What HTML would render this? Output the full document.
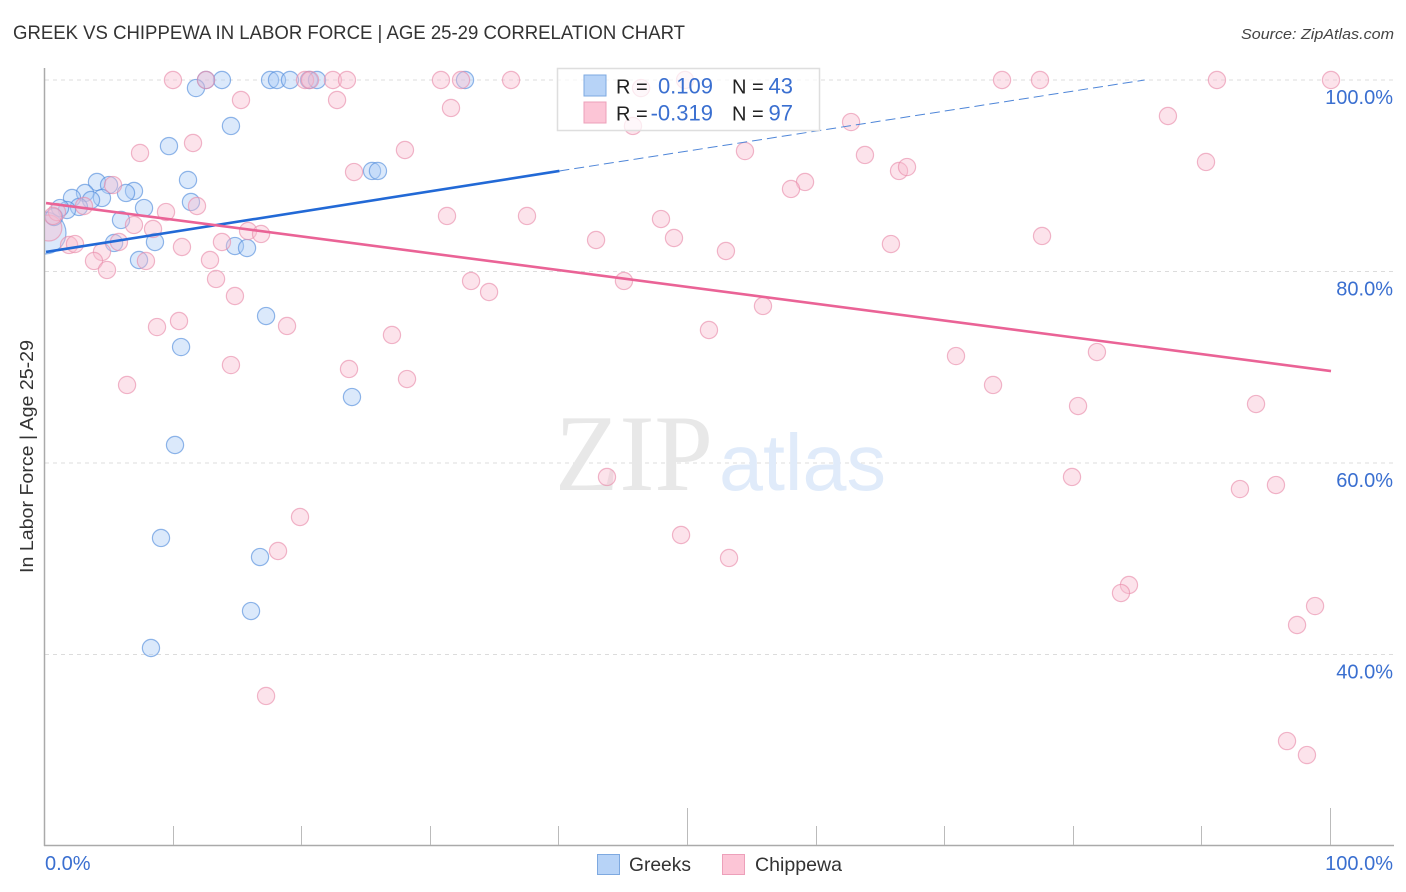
<!DOCTYPE html>
<html lang="en">
<head>
<meta charset="utf-8">
<title>Greek vs Chippewa in Labor Force | Age 25-29 Correlation Chart</title>
<style>
html,body{margin:0;padding:0;background:#fff;}
svg{display:block;font-family:"Liberation Sans",sans-serif;}
</style>
</head>
<body>
<svg id="chart" width="1406" height="892" viewBox="0 0 1406 892" xmlns="http://www.w3.org/2000/svg">
<defs><clipPath id="plot-clip"><rect x="45" y="60" width="1361" height="786"/></clipPath></defs>
<rect x="0" y="0" width="1406" height="892" fill="#ffffff"/>
<text x="13" y="39" font-size="19.5" fill="#333" textLength="672" lengthAdjust="spacingAndGlyphs">GREEK VS CHIPPEWA IN LABOR FORCE | AGE 25-29 CORRELATION CHART</text>
<text x="1394" y="39" font-size="15" font-style="italic" fill="#444" text-anchor="end" textLength="153" lengthAdjust="spacingAndGlyphs">Source: ZipAtlas.com</text>
<text transform="translate(33,456.5) rotate(-90)" font-size="18.5" fill="#333" text-anchor="middle" textLength="233" lengthAdjust="spacingAndGlyphs">In Labor Force | Age 25-29</text>
<g id="grid"></g>
<g>
<text x="555" y="490" font-family="'Liberation Serif',serif" font-size="109" fill="#e8e8e8" textLength="158" lengthAdjust="spacingAndGlyphs">ZIP</text>
<text x="719" y="490" font-size="80" fill="#e0ebfa" textLength="167" lengthAdjust="spacingAndGlyphs">atlas</text>
</g>
<g id="axes"></g>
<g id="points" clip-path="url(#plot-clip)"></g>
<g id="trends"></g>
<g>
<rect x="557.5" y="68.5" width="262" height="62" fill="#ffffff" fill-opacity="0.72" stroke="#dedede" stroke-width="1.5"/>
<rect x="584" y="75" width="22" height="21" fill="#b7d3f7" stroke="#7ea9e0" stroke-width="1"/>
<rect x="584" y="102" width="22" height="21" fill="#fcc5d6" stroke="#eda0ba" stroke-width="1"/>
<text x="616" y="93.500" font-size="20" fill="#222">R =</text>
<text x="713" y="93.500" font-size="22" fill="#3a6fd0" text-anchor="end">0.109</text>
<text x="732" y="93.500" font-size="20" fill="#222">N =</text>
<text x="793" y="93.500" font-size="22" fill="#3a6fd0" text-anchor="end">43</text>
<text x="616" y="120.500" font-size="20" fill="#222">R =</text>
<text x="713" y="120.500" font-size="22" fill="#3a6fd0" text-anchor="end">-0.319</text>
<text x="732" y="120.500" font-size="20" fill="#222">N =</text>
<text x="793" y="120.500" font-size="22" fill="#3a6fd0" text-anchor="end">97</text>
</g>
<g>
<rect x="597.500" y="854.500" width="22" height="20" fill="#b7d3f7" stroke="#7ea9e0" stroke-width="1"/>
<text x="629" y="871" font-size="19.500" fill="#333" textLength="62" lengthAdjust="spacingAndGlyphs">Greeks</text>
<rect x="722.500" y="854.500" width="22" height="20" fill="#fcc5d6" stroke="#eda0ba" stroke-width="1"/>
<text x="755" y="871" font-size="19.500" fill="#333" textLength="87" lengthAdjust="spacingAndGlyphs">Chippewa</text>
</g>
</svg>
<script>
const greekX = [13.76,12.52,11.74,17.50,18.04,19.05,20.53,21.15,32.66,14.46,9.64,11.12,4.04,4.98,3.11,2.10,6.92,6.30,4.43,3.58,7.70,2.64,1.71,1.17,0.70,5.91,11.35,8.55,5.37,7.31,14.77,15.71,25.43,25.89,17.19,10.58,23.87,10.11,9.02,16.72,16.02,8.24];
const greekY = [100,100,99.16,100,100,100,100,100,100,95.2,93.1,89.56,89.35,89.03,88.2,87.68,88.41,88.2,87.68,87.47,86.63,86.74,86.42,86.63,85.69,85.38,87.26,83.08,82.98,81.2,82.66,82.45,90.5,90.5,75.35,72.11,66.89,61.88,52.17,50.18,44.54,40.68];
const greekBubbleX = [0];
const greekBubbleY = [84.02];
const chippewaX = [9.95,12.52,20.22,20.61,22.39,23.48,30.79,32.35,36.24,49.77,74.42,77.37,91.13,100,46.35,15.24,22.71,31.57,45.72,62.68,87.32,11.51,7.39,27.99,54.43,63.76,90.28,24.03,66.41,67.03,59.10,58.01,5.29,3.03,11.82,9.41,31.26,37.48,47.90,6.92,8.40,15.79,16.80,42.85,48.91,77.53,13.76,5.75,65.78,10.65,1.87,2.33,4.43,52.95,3.81,7.85,12.83,4.82,13.30,33.13,45.02,34.53,14.77,55.83,10.42,8.71,18.82,51.63,26.98,70.84,81.80,14.46,23.64,28.15,6.38,73.72,80.33,94.17,43.70,79.86,92.92,95.72,19.83,49.46,18.12,53.19,84.29,83.67,98.76,97.36,17.19,96.58,98.13,0.93,0.62];
const chippewaY = [100,100,100,100,100,100,100,100,100,100,100,100,100,100,99.16,97.91,97.91,97.08,95.2,95.61,96.24,93.42,92.38,92.69,92.58,92.17,91.44,90.39,90.5,90.91,89.35,88.62,89.03,86.84,86.84,86.21,85.8,85.8,85.48,84.86,84.44,84.23,83.92,83.29,83.5,83.71,83.08,83.08,82.87,82.56,82.77,82.87,82.04,82.14,81.1,81.1,81.2,80.16,79.22,79.01,79.01,77.86,77.44,76.4,74.83,74.2,74.31,73.89,73.37,71.17,71.59,70.23,69.82,68.77,68.15,68.15,65.95,66.16,58.54,58.54,57.28,57.7,54.36,52.48,50.81,50.08,47.26,46.42,45.06,43.08,35.67,30.96,29.5,86.21,85.8];
const chippewaBubbleX = [0.3];
const chippewaBubbleY = [84.54];
const greekTrendX = [0.08,40,85.5];
const greekTrendY = [82.04,90.5,100];
const chippewaTrendX = [0.08,100];
const chippewaTrendY = [87.15,69.6];
const yTicks = [100,80,60,40];
const yTickLabels = ["100.0%","80.0%","60.0%","40.0%"];
const xTicks = [0,10,20,30,40,50,60,70,80,90,100];
const xEndTicks = [0,100];
const xEndLabels = ["0.0%","100.0%"];

const NS = "http://www.w3.org/2000/svg";
function sx(v){return 45+v*12.86;}
function sy(v){return 80+(100-v)*9.575;}
function make(parent,tag,attrs){
  const el=document.createElementNS(NS,tag);
  for(const k in attrs){el.setAttribute(k,attrs[k]);}
  parent.appendChild(el);
  return el;
}
const grid=document.getElementById("grid");
const axes=document.getElementById("axes");
const pts=document.getElementById("points");
const trends=document.getElementById("trends");

yTicks.forEach(function(t,i){
  const l=make(grid,"line",{x1:45,x2:1394,y1:sy(t),y2:sy(t),stroke:"#dcdcdc","stroke-width":1,"stroke-dasharray":"4 4"});
  
  
  const tx=make(axes,"text",{x:1393,y:sy(t)+24,"font-size":20,fill:"#3a6fd0","text-anchor":"end"});
  tx.textContent=yTickLabels[i];
  
  
});
const yAxis=make(axes,"line",{x1:44.5,x2:44.5,y1:68,y2:846,stroke:"#aaaaaa","stroke-width":1.5});


const xAxis=make(axes,"line",{x1:44,x2:1394,y1:845.5,y2:845.5,stroke:"#aaaaaa","stroke-width":1.5});


xTicks.forEach(function(t){
  if(t===0){return;}
  const top=(t===50||t===100)?808:826;
  const px=Math.floor(sx(t)-0.5)+0.5;
  const l=make(axes,"line",{x1:px,x2:px,y1:top,y2:845,stroke:"#bbbbbb","stroke-width":1});
  
  
});
xEndTicks.forEach(function(t,i){
  const tx=make(axes,"text",{x:i===0?sx(t):1393,y:870,"font-size":20,fill:"#3a6fd0","text-anchor":i===0?"start":"end"});
  tx.textContent=xEndLabels[i];
  
  
});

function drawDot(x,y,r,fill,stroke){
  return make(pts,"circle",{cx:sx(x),cy:sy(y),r:r,fill:fill,"fill-opacity":0.42,stroke:stroke,"stroke-opacity":0.62,"stroke-width":1.2});
}
const BLUE_FILL="#a9cbf5",BLUE_STROKE="#4f8bdc",PINK_FILL="#f9bdd0",PINK_STROKE="#e98aa9";
greekBubbleX.forEach(function(x,i){
  const c=drawDot(x,greekBubbleY[i],21,BLUE_FILL,BLUE_STROKE);
  
  
});
greekX.forEach(function(x,i){
  const c=drawDot(x,greekY[i],8.6,BLUE_FILL,BLUE_STROKE);
  
  
});
chippewaBubbleX.forEach(function(x,i){
  const c=drawDot(x,chippewaBubbleY[i],13,PINK_FILL,PINK_STROKE);
  
  
});
chippewaX.forEach(function(x,i){
  const c=drawDot(x,chippewaY[i],8.6,PINK_FILL,PINK_STROKE);
  
  
});

const solid=make(trends,"line",{x1:sx(greekTrendX[0]),y1:sy(greekTrendY[0]),x2:sx(greekTrendX[1]),y2:sy(greekTrendY[1]),stroke:"#2269d6","stroke-width":2.6});


const dashed=make(trends,"line",{x1:sx(greekTrendX[1]),y1:sy(greekTrendY[1]),x2:sx(greekTrendX[2]),y2:sy(greekTrendY[2]),stroke:"#4f86d8","stroke-width":1,"stroke-dasharray":"10 5"});


const pink=make(trends,"line",{x1:sx(chippewaTrendX[0]),y1:sy(chippewaTrendY[0]),x2:sx(chippewaTrendX[1]),y2:sy(chippewaTrendY[1]),stroke:"#ea6396","stroke-width":2.6});


</script>
</body>
</html>
